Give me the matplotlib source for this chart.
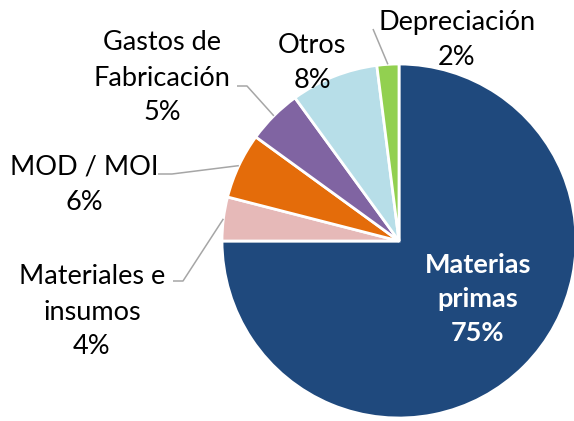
import numpy as np
import matplotlib
matplotlib.use("Agg")
import matplotlib.pyplot as plt

# cost structure (share of total, %)
labels = ["Materias\nprimas", "Materiales e\ninsumos", "MOD / MOI",
          "Gastos de\nFabricación", "Otros", "Depreciación"]
values = [75, 4, 6, 5, 8, 2]
colors = ["#1F497D", "#E6B9B8", "#E46C0A", "#8064A2", "#B7DEE8", "#92D050"]
explode = [0.015, 0, 0, 0, 0, 0]

W, H = 574, 421
plt.rcParams['font.family'] = ['Lato', 'DejaVu Sans']

fig = plt.figure(figsize=(W / 100, H / 100), dpi=100)
ax = fig.add_axes([0, 0, 1, 1])

cx, cy, r = 399, H - 241, 177
wedges, _ = ax.pie(values, colors=colors, startangle=90, counterclock=False,
                   explode=explode, center=(cx, cy), radius=r,
                   wedgeprops=dict(edgecolor="white", linewidth=2))
ax.set_xlim(0, W)
ax.set_ylim(0, H)
ax.set_aspect('equal')
ax.axis('off')


def edge_point(w):
    ang = np.deg2rad((w.theta1 + w.theta2) / 2)
    return cx + r * np.cos(ang), cy + r * np.sin(ang)


# label centers in image pixels (x, y from top) and leader line elbows
label_pos = [(478, 299), (92, 312), (84, 185), (162, 78), (312, 63), (457, 40)]
elbows = [None, [(173, 281), (183, 281)], [(158, 174), (172, 174)],
          [(237, 86), (247, 86)], None, [(373, 29)]]

for i, (lab, v) in enumerate(zip(labels, values)):
    x, y = label_pos[i]
    txt = "%s\n%d%%" % (lab, v)
    if i == 0:
        ax.text(x, H - y, txt, ha='center', va='center', color='white',
                fontsize=19.5, fontweight='bold', linespacing=1.5)
    else:
        ax.text(x, H - y, txt, ha='center', va='center', color='black',
                fontsize=19.5, linespacing=1.5)
    if elbows[i] is not None:
        ex, ey = edge_point(wedges[i])
        xs = [p[0] for p in elbows[i]] + [ex]
        ys = [H - p[1] for p in elbows[i]] + [ey]
        ax.plot(xs, ys, color="#A6A6A6", linewidth=1.1, solid_capstyle='butt')

fig.savefig("out.png", dpi=100)
